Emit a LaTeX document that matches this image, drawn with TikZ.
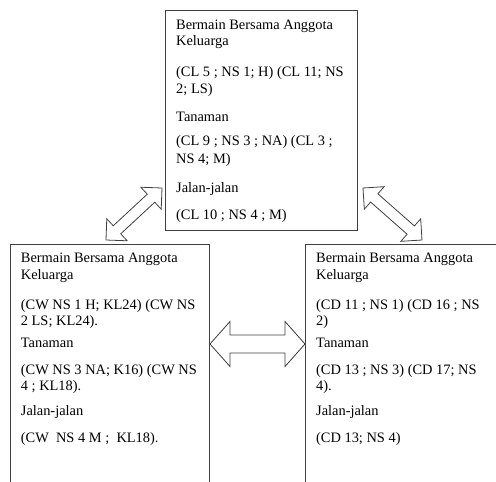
\documentclass[tikz,border=0pt]{standalone}
\usepackage{fontspec}
\setmainfont{Liberation Serif}
\usetikzlibrary{calc}
\newcommand{\dblarrow}[5]{%
  \draw[blockarrow] (#1)
    -- ($(#1)!#5!(#2)!#4!90:(#2)$) -- ($(#1)!#5!(#2)!#3!90:(#2)$)
    -- ($(#2)!#5!(#1)!#3!-90:(#1)$) -- ($(#2)!#5!(#1)!#4!-90:(#1)$)
    -- (#2)
    -- ($(#2)!#5!(#1)!#4!90:(#1)$) -- ($(#2)!#5!(#1)!#3!90:(#1)$)
    -- ($(#1)!#5!(#2)!#3!-90:(#2)$) -- ($(#1)!#5!(#2)!#4!-90:(#2)$)
    -- cycle;}
\tikzset{
  box/.style={draw=black!75, line width=1pt, anchor=north west, inner sep=0pt},
  txt/.style={align=left, inner sep=0pt, anchor=north west, text=black,
    font=\fontsize{14.4}{16.7}\selectfont},
  blockarrow/.style={draw=black!75, line width=0.8pt, fill=white}
}

\begin{document}
\begin{tikzpicture}[x=1pt, y=-1pt]
    \path[use as bounding box] (0,0) rectangle (496,482);
    \clip (0,0) rectangle (496,482);
    \node[box, minimum width=192pt, minimum height=220pt] (top) at (165,10) {};
    \node[box, minimum width=199pt, minimum height=300pt] (left) at (10,244) {};
    \node[box, minimum width=250pt, minimum height=300pt] (right) at (305,244) {};
    \node[txt] (topTxt) at ([shift={+(11,9.5)}]top.north west) {Bermain Bersama Anggota\\Keluarga\\[14pt]
        (CL 5 ; NS 1; H) (CL 11; NS\\2; LS)\\[11pt]
        Tanaman\\[8pt]
        (CL 9 ; NS 3 ; NA) (CL 3 ;\\[1.5pt]NS 4; M)\\[12pt]
        Jalan-jalan\\[10.5pt]
        (CL 10 ; NS 4 ; M)};
    \node[txt] (leftTxt) at ([shift={+(10.7,9)}]left.north west) {Bermain Bersama Anggota\\Keluarga\\[13pt]
        (CW NS 1 H; KL24) (CW NS\\2 LS; KL24).\\[5pt]
        Tanaman\\[10pt]
        (CW NS 3 NA; K16) (CW NS\\4 ; KL18).\\[8pt]
        Jalan-jalan\\[10pt]
        (CW\ \ NS 4 M ;\ \ KL18).};
    \node[txt] (rightTxt) at ([shift={+(11,9)}]right.north west) {Bermain Bersama Anggota\\Keluarga\\[13pt]
        (CD 11 ; NS 1) (CD 16 ; NS\\2)\\[5pt]
        Tanaman\\[10pt]
        (CD 13 ; NS 3) (CD 17; NS\\4).\\[8pt]
        Jalan-jalan\\[10pt]
        (CD 13; NS 4)};
    \coordinate (tlA) at ([shift={+(96,-4)}]left.north west);
    \coordinate (tlB) at ([shift={+(-3,178)}]top.north west);
    \coordinate (trA) at ([shift={+(5,178)}]top.north east);
    \coordinate (trB) at ([shift={+(117,-4)}]right.north west);
    \coordinate (mL) at ([shift={+(0,100)}]left.north east);
    \coordinate (mR) at ([shift={+(0,100)}]right.north west);
    \dblarrow{tlA}{tlB}{5.5pt}{15pt}{15pt}
    \dblarrow{trA}{trB}{5.5pt}{15pt}{15pt}
    \dblarrow{mL}{mR}{9pt}{22.5pt}{20pt}
\end{tikzpicture}
\end{document}
